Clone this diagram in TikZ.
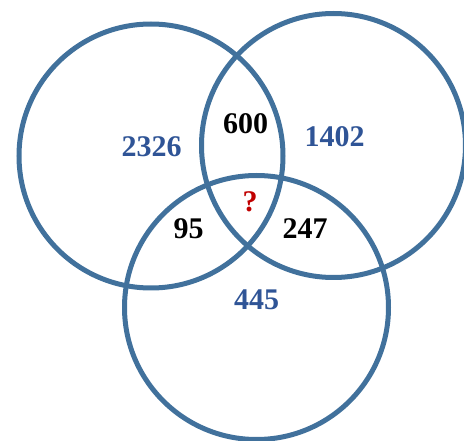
\documentclass[tikz,border=0pt]{standalone}
\usepackage{fontspec}
\setmainfont{Liberation Serif}
\definecolor{ringblue}{RGB}{65,113,156}
\definecolor{numblue}{RGB}{47,84,150}
\definecolor{numred}{RGB}{192,0,0}
\begin{document}
\begin{tikzpicture}[x=1pt, y=-1pt,
    ring/.style={circle, draw=ringblue, line width=5pt, minimum size=264pt, inner sep=0pt},
    num/.style={font=\fontsize{30}{30}\selectfont\bfseries, inner sep=0pt}]
    \useasboundingbox (0,0) rectangle (464,441);

    % Circles
    \node[ring] (left) at (151,156) {};
    \node[ring] (right) at (333.5,145.5) {};
    \node[ring] (bottom) at (256.5,307.5) {};

    % Only one set
    \node[num, numblue] (onlyleft) at (151.5,147) {2326};
    \node[num, numblue] (onlyright) at (334.5,137) {1402};
    \node[num, numblue] (onlybottom) at (256.5,300) {445};

    % Two sets
    \node[num] (leftright) at (245.5,124) {600};
    \node[num] (leftbottom) at (188.5,229) {95};
    \node[num] (rightbottom) at (305,229) {247};

    % All three
    \node[num, numred] (all) at (250,202) {?};
\end{tikzpicture}
\end{document}
